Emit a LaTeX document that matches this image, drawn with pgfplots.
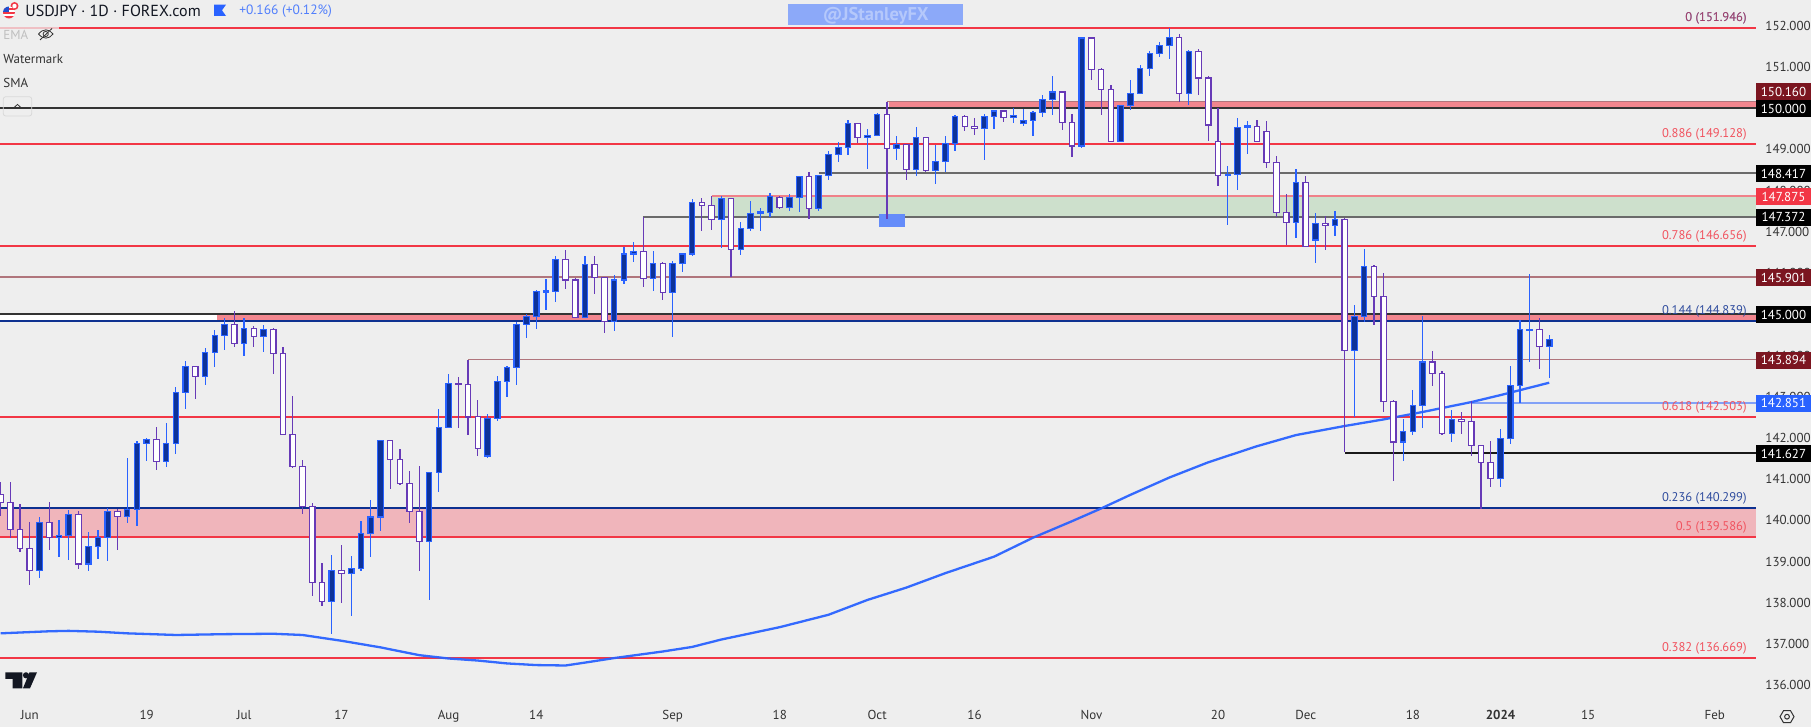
\documentclass[border=0pt]{standalone}
\usepackage{fontspec}
\setmainfont{PT Sans}
\usepackage{pgfplots}
\usepackage{pgfplotstable}
\pgfplotsset{compat=1.18}
\definecolor{bg}{HTML}{EEEEEE}
\definecolor{upfill}{HTML}{0D3299}
\definecolor{upline}{HTML}{2962FF}
\definecolor{dnline}{HTML}{673AB7}
\definecolor{fibred}{HTML}{F23645}
\definecolor{navy}{HTML}{0D3090}
\definecolor{mauve}{HTML}{B0757C}
\definecolor{zone}{HTML}{F2868E}
\definecolor{zonelt}{HTML}{F0B5BB}
\definecolor{greenz}{HTML}{CDE0CC}
\definecolor{darkred}{HTML}{7B1520}
\definecolor{ink}{HTML}{131722}
\definecolor{gray6}{HTML}{6A6A6A}
\definecolor{bk}{HTML}{333333}
\definecolor{wmbox}{HTML}{8CA9F9}
\definecolor{wmtext}{HTML}{B5C8FB}
\pgfplotstableread{
i top bot h l
4 139.95 138.79 140.08 138.61
6 139.64 139.60 140.01 139.10
7 140.15 139.64 140.25 139.05
9 139.37 138.94 139.71 138.78
10 139.59 139.37 139.77 139.07
11 140.22 139.59 140.29 139.02
13 140.27 140.10 141.51 139.94
14 141.87 140.27 141.93 139.87
15 141.97 141.87 141.99 141.44
17 141.87 141.43 142.36 141.30
18 143.11 141.87 143.23 141.62
19 143.74 143.11 143.87 142.71
21 144.08 143.50 144.18 143.29
22 144.49 144.08 144.61 143.73
23 144.76 144.49 144.91 144.14
25 144.66 144.30 144.91 144.00
27 144.64 144.47 144.73 144.09
34 138.79 138.04 139.15 137.25
36 138.84 138.72 139.14 137.69
37 139.69 138.84 139.99 138.78
38 140.08 139.69 140.50 139.12
39 141.94 140.08 141.95 139.74
44 141.17 139.49 141.17 138.08
45 142.26 141.17 142.70 140.70
46 143.33 142.26 143.55 142.23
50 142.48 141.56 142.57 141.52
51 143.37 142.48 143.50 142.42
52 143.71 143.37 143.75 143.00
53 144.76 143.71 144.82 143.29
54 144.95 144.76 145.01 144.43
55 145.56 144.95 145.59 144.65
56 145.57 145.54 145.85 145.11
57 146.33 145.56 146.41 145.31
60 146.21 144.93 146.41 144.93
63 145.83 144.83 145.95 144.60
64 146.46 145.83 146.63 145.74
65 146.53 146.46 146.75 146.28
67 146.24 145.87 146.53 145.57
69 146.24 145.53 146.29 144.46
70 146.46 146.24 146.48 146.03
71 147.72 146.46 147.79 146.42
74 147.81 147.30 147.86 146.60
76 147.09 146.58 147.23 146.45
77 147.45 147.09 147.74 147.03
78 147.48 147.46 147.57 147.03
79 147.86 147.47 147.94 147.35
81 147.84 147.60 147.91 147.51
82 148.35 147.84 148.35 147.49
84 148.37 147.57 148.37 147.51
85 148.88 148.37 148.95 148.27
86 149.05 148.88 149.18 148.70
87 149.63 149.05 149.71 148.87
89 149.34 149.29 149.49 148.53
90 149.85 149.34 149.88 149.34
92 149.12 149.03 149.32 148.75
94 149.29 148.52 149.54 148.36
96 148.71 148.49 149.11 148.17
97 149.15 148.71 149.32 148.45
98 149.80 149.15 149.84 148.97
101 149.80 149.51 149.85 148.75
102 149.93 149.80 149.93 149.50
104 149.83 149.78 150.00 149.65
105 149.71 149.63 149.99 149.58
106 149.90 149.71 149.93 149.33
107 150.22 149.90 150.32 149.79
108 150.39 150.22 150.78 149.84
111 151.70 149.08 151.72 149.04
115 150.07 149.20 150.07 149.20
116 150.36 150.07 150.68 149.95
117 150.97 150.36 151.04 150.36
118 151.33 150.97 151.38 150.79
119 151.53 151.33 151.60 151.23
120 151.72 151.53 151.95 151.20
122 151.38 150.36 151.40 150.07
126 148.40 148.38 148.59 147.17
127 149.54 148.40 149.76 148.02
128 149.57 149.54 149.68 148.90
133 148.20 147.23 148.52 146.86
135 147.21 146.80 147.45 146.24
137 147.30 147.16 147.50 146.91
139 144.95 144.13 145.22 142.52
140 146.16 144.95 146.58 144.82
144 142.16 141.90 142.45 141.45
145 142.79 142.16 143.16 142.08
146 143.84 142.79 144.95 142.25
149 142.45 142.11 142.67 141.89
154 141.99 141.02 142.21 140.82
155 143.28 141.99 143.74 141.86
156 144.64 143.28 144.86 142.86
157 144.64 144.62 145.97 143.84
159 144.39 144.22 144.49 143.45
}\upT
\pgfplotstableread{
i top bot h l
0 140.63 140.44 140.93 140.11
1 140.44 139.78 140.93 139.58
2 139.78 139.32 140.40 139.24
3 139.32 138.79 139.96 138.44
5 139.95 139.59 140.45 139.27
8 140.15 138.94 140.23 138.83
12 140.22 140.10 140.28 139.29
16 141.97 141.43 142.27 141.23
20 143.74 143.50 143.75 142.95
24 144.76 144.30 145.08 144.21
26 144.66 144.47 144.71 144.21
28 144.64 144.05 144.66 143.56
29 144.05 142.09 144.21 142.09
30 142.09 141.31 143.01 141.28
31 141.31 140.34 141.47 140.16
32 140.34 138.50 140.42 138.17
33 138.50 138.04 138.96 137.93
35 138.79 138.72 139.40 138.00
40 141.94 141.48 141.94 140.77
41 141.48 140.90 141.73 140.86
42 140.90 140.22 141.20 139.94
43 140.22 139.49 141.32 138.78
47 143.33 143.31 143.48 142.25
48 143.30 142.52 143.88 142.08
49 142.52 141.75 142.91 141.57
58 146.33 145.83 146.55 145.62
59 145.83 144.93 145.88 144.93
61 146.21 145.90 146.41 145.50
62 145.90 144.83 145.90 144.55
66 146.53 145.87 147.37 145.67
68 146.24 145.53 146.26 145.35
72 147.72 147.64 147.81 147.03
73 147.64 147.30 147.86 147.05
75 147.81 146.58 147.81 145.91
80 147.84 147.60 147.86 147.55
83 148.35 147.57 148.45 147.32
88 149.63 149.29 149.63 149.16
91 149.85 149.03 150.14 147.30
93 149.12 148.52 149.12 148.27
95 149.29 148.49 149.29 148.45
99 149.80 149.56 149.84 149.45
100 149.56 149.51 149.76 149.36
103 149.93 149.78 149.93 149.67
109 150.39 149.66 150.41 149.48
110 149.66 149.08 149.85 148.82
112 151.70 150.94 151.70 150.68
113 150.94 150.46 150.97 149.84
114 150.46 149.20 150.56 149.20
121 151.72 150.36 151.79 150.14
123 151.38 150.73 151.43 150.31
124 150.73 149.59 150.77 149.21
125 149.20 148.37 150.00 148.12
129 149.56 149.20 149.71 149.20
130 149.44 148.69 149.68 148.55
131 148.69 147.47 148.83 147.35
132 147.47 147.23 147.91 146.67
134 148.20 146.65 148.35 146.65
136 147.21 147.16 147.38 146.57
138 147.30 144.13 147.33 141.65
141 146.16 145.44 146.19 144.75
142 145.44 142.89 146.00 142.64
143 142.89 141.90 142.91 140.96
147 143.84 143.57 144.10 143.27
148 143.57 142.11 143.62 142.06
150 142.45 142.40 142.62 142.10
151 142.40 141.82 142.89 141.57
152 141.82 141.41 141.82 140.27
153 141.41 141.02 141.92 140.82
158 144.64 144.22 144.90 143.68
}\dnT
\pgfplotstableread{
i p
0 137.26
5 137.31
7 137.32
10 137.30
13 137.26
18 137.22
23 137.24
28 137.25
31 137.22
35 137.08
39 136.92
43 136.73
46 136.65
49 136.60
52 136.53
55 136.49
58 136.48
60 136.55
63 136.66
68 136.82
71 136.93
74 137.11
80 137.41
85 137.71
89 138.07
93 138.37
97 138.72
102 139.12
106 139.58
110 139.98
113 140.29
116 140.62
120 141.04
124 141.41
129 141.80
133 142.07
138 142.29
142 142.45
146 142.63
151 142.87
154 143.04
159 143.34
}\smaT
\newcommand\fs[1]{\fontsize{\dimexpr#1pt/2\relax}{\dimexpr#1pt/2\relax}\selectfont}
\newcommand\hl[5][]{\addplot[no marks,line width=#2*0.5pt,color=#3,#1] coordinates {(#4,#5)(180.23,#5)};}
\newcommand\zn[5]{\addplot[draw=none,fill=#1,no marks] coordinates {(#2,#4)(#3,#4)(#3,#5)(#2,#5)} -- cycle;}
\newcommand\candles[3]{%
 \addplot[draw=none,no markers,error bars/.cd,y dir=both,y explicit,error mark=none,error bar style={line width=0.6pt,draw=#2}]
   table[x=i,y=bot,y error plus expr=\thisrow{h}-\thisrow{bot},y error minus expr=\thisrow{bot}-\thisrow{l}] {#1};
 \addplot[draw=none,no markers,error bars/.cd,y dir=both,y explicit,error mark=none,error bar style={line width=3.3pt,draw=#2}]
   table[x=i,y=bot,y error plus expr=\thisrow{top}-\thisrow{bot}+0.015,y error minus expr=0.015] {#1};
 \addplot[draw=none,no markers,error bars/.cd,y dir=plus,y explicit,error mark=none,error bar style={line width=2.1pt,draw=#3}]
   table[x=i,y expr=\thisrow{bot}+0.015,y error plus expr={max(\thisrow{top}-\thisrow{bot}-0.03,0)}] {#1};
}
\newcommand\ppx[2]{({#1*0.5pt},{(727-#2)*0.5pt})}
\newcommand\tagn[3]{\node[fill=#2,text=white,minimum width=27.5pt,minimum height=8.5pt,inner sep=0pt,font=\fs{13}] at \ppx{1783.5}{#1} {#3};}
\newcommand\fibn[3]{\node[anchor=east,inner sep=0pt,text=#2,font=\fs{12.6}] at \ppx{1747}{#1} {#3};}
\begin{document}
\begin{tikzpicture}
\useasboundingbox (0,0) rectangle (905.5pt,363.5pt);
\fill[bg] (0,0) rectangle (905.5pt,363.5pt);
\begin{axis}[
  at={(0pt,13.5pt)},anchor=south west,
  scale only axis,width=878pt,height=350pt,
  xmin=-0.0575,xmax=180.23,ymin=135.643,ymax=152.625,
  axis line style={draw=none},
  major tick length=0pt,
  ytick={136,137,...,152},
  yticklabel pos=right,
  y tick label style={/pgf/number format/.cd,fixed,fixed zerofill,precision=3,assume math mode=true,1000 sep={},/tikz/.cd,anchor=west,inner sep=0pt,xshift=4.5pt,font=\fs{13},text=bk},
  xtick={3,15,25,35,46,55,69,80,90,100,112,125,134,145,154,163,176},
  xticklabels={Jun,19,Jul,17,Aug,14,Sep,18,Oct,16,Nov,20,Dec,18,{\bfseries 2024},15,Feb},
  x tick label style={anchor=north,inner sep=0pt,yshift=-5pt,font=\fs{13},text=bk},
  clip=true,
]
% zones
\zn{white}{-0.0575}{22.22}{145.0}{144.839}
\zn{zone}{22.22}{180.23}{145.0}{144.839}
\zn{zonelt}{-0.0575}{180.23}{140.299}{139.586}
\zn{zone}{91.2}{180.23}{150.16}{150.0}
\zn{greenz}{73}{180.23}{147.875}{147.372}
% levels
\addplot[no marks,line width=1pt,color=fibred!25!bg] coordinates {(-0.0575,151.946)(6,151.946)};
\hl{2}{fibred}{6}{151.946}
\hl{2}{fibred}{-0.0575}{149.128}
\hl{2}{fibred}{-0.0575}{146.656}
\hl{2}{fibred}{-0.0575}{142.503}
\hl{2}{fibred}{-0.0575}{139.586}
\hl{2}{fibred}{-0.0575}{136.669}
\hl{2}{bk}{-0.0575}{150.0}
\hl{2}{bk}{-0.0575}{145.0}
\hl{1.8}{navy}{-0.0575}{144.839}
\hl{1.8}{navy}{-0.0575}{140.299}
\hl{2}{mauve}{-0.0575}{145.901}
\hl{1.2}{mauve}{48}{143.894}
\hl{1.8}{mauve}{91}{150.16}
\hl{2}{gray6}{84}{148.417}
\hl{2}{gray6}{66}{147.372}
\hl{1.8}{fibred!60!bg}{73}{147.875}
\hl{2}{upline!55!bg}{151}{142.851}
\hl{2}{black!90}{138}{141.627}
% SMA
\addplot[no marks,line width=1.15pt,color=upline,opacity=0.95] table[x=i,y=p] {\smaT};
% blue box
\zn{upline!70!bg}{90.2}{92.9}{147.43}{147.12}
% candles
\candles{\upT}{upline}{upfill}
\candles{\dnT}{dnline}{white}
\end{axis}
% price tags
\tagn{91.7}{darkred}{150.160}
\tagn{109}{black}{150.000}
\tagn{174}{black}{148.417}
\tagn{197}{fibred}{147.875}
\tagn{217.3}{black}{147.372}
\tagn{277.7}{darkred}{145.901}
\tagn{314.5}{black}{145.000}
\tagn{360.2}{darkred}{143.894}
\tagn{403.2}{upline}{142.851}
\tagn{453.5}{black}{141.627}
% fib labels
\colorlet{fibt}{fibred!85!bg}
\colorlet{fibb}{navy!85!bg}
\fibn{18}{fibb}{0 (151.946)}
\node[anchor=east,inner sep=0pt,text=fibred,opacity=0.6,font=\fs{12.6}] at \ppx{1747}{18} {0 (151.946)};
\fibn{134}{fibt}{0.886 (149.128)}
\fibn{236}{fibt}{0.786 (146.656)}
\fibn{311}{fibb}{0.144 (144.839)}
\fibn{407}{fibt}{0.618 (142.503)}
\fibn{498}{fibb}{0.236 (140.299)}
\fibn{527}{fibt}{0.5 (139.586)}
\fibn{648}{fibt}{0.382 (136.669)}
% watermark
\fill[wmbox] \ppx{788}{4} rectangle \ppx{963}{25};
\node[text=wmtext,inner sep=0pt,font=\fs{18.5}\bfseries] at \ppx{875.7}{15.5} {@JStanleyFX};
% legend
\node[anchor=west,inner sep=0pt,text=ink,font=\fs{16}] at \ppx{25}{11} {USDJPY · 1D · FOREX.com};
\node[anchor=west,inner sep=0pt,text=upline!80!bg,font=\fs{13.5}] at \ppx{239}{11} {+0.166 (+0.12\%)};
\node[anchor=west,inner sep=0pt,text=black!25,font=\fs{13}] at \ppx{3}{35} {EMA};
\node[anchor=west,inner sep=0pt,text=bk,font=\fs{13}] at \ppx{3}{59} {Watermark};
\node[anchor=west,inner sep=0pt,text=bk,font=\fs{13}] at \ppx{3}{83} {SMA};
% flag icons
\fill[fibred] \ppx{14.5}{6} circle (2pt);
\fill[white] \ppx{14.5}{6} circle (1.1pt);
\begin{scope}
\clip \ppx{9}{12.5} circle (3pt);
\fill[white] \ppx{3}{6.5} rectangle \ppx{15}{18.5};
\fill[fibred] \ppx{3}{8} rectangle \ppx{15}{10};
\fill[fibred] \ppx{3}{12} rectangle \ppx{15}{14};
\fill[fibred] \ppx{3}{16} rectangle \ppx{15}{19};
\fill[upline!80!black] \ppx{3}{6.5} rectangle \ppx{9}{12.5};
\end{scope}
\fill[upline] \ppx{214}{4.7} -- \ppx{226}{4.7} -- \ppx{222}{10.3} -- \ppx{226}{16} -- \ppx{214}{16} -- cycle;
% eye
\draw[bk,line width=0.4pt] \ppx{38.5}{34} .. controls \ppx{43}{28.5} and \ppx{49}{28.5} .. \ppx{53}{34} .. controls \ppx{49}{39.5} and \ppx{43}{39.5} .. \ppx{38.5}{34};
\draw[bk,line width=0.4pt] \ppx{40}{40} -- \ppx{52}{28.5};
\draw[bk,line width=0.4pt] \ppx{45.7}{34} circle (1.3pt);
% collapse button
\draw[black!15,line width=0.4pt,rounded corners=1.2pt] \ppx{3.3}{96.7} rectangle \ppx{31.7}{116};
\draw[bk,line width=0.4pt] \ppx{13.5}{108} -- \ppx{17.5}{104.5} -- \ppx{21.5}{108};
% TV logo
\fill[ink] \ppx{5.4}{672.3} -- \ppx{22.3}{672.3} -- \ppx{22.3}{688.3} -- \ppx{12.5}{688.3} -- \ppx{12.5}{679} -- \ppx{5.4}{679} -- cycle;
\fill[ink] \ppx{26}{675.3} circle (1.55pt);
\fill[ink] \ppx{29.5}{672.3} -- \ppx{37}{672.3} -- \ppx{30}{688.3} -- \ppx{23}{688.3} -- cycle;
% settings
\draw[bk,line width=0.5pt] \ppx{1780}{716.7} -- \ppx{1783.5}{710.7} -- \ppx{1790.5}{710.7} -- \ppx{1794}{716.7} -- \ppx{1790.5}{722.7} -- \ppx{1783.5}{722.7} -- cycle;
\draw[bk,line width=0.5pt] \ppx{1787}{716.7} circle (1.2pt);
\end{tikzpicture}
\end{document}
